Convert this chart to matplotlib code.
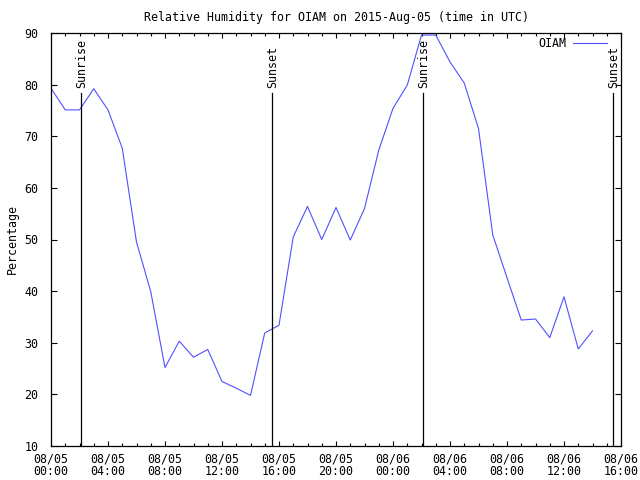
#!/usr/bin/env python
import matplotlib
matplotlib.use('Agg')
import matplotlib.pyplot as pyplot
from matplotlib.ticker import MultipleLocator

# hourly relative humidity, hours since 2015-08-05 00:00 UTC
hours = list(range(0, 39))
humidity = [79.3, 75.1, 75.1, 79.2, 75.1, 67.7, 49.5, 39.9, 25.2, 30.3,
            27.2, 28.7, 22.5, 21.2, 19.8, 31.9, 33.4, 50.5, 56.4, 50.0,
            56.2, 49.9, 56.0, 67.3, 75.4, 79.9, 89.6, 89.6, 84.4, 80.3,
            71.5, 50.9, 42.6, 34.4, 34.6, 31.0, 38.9, 28.8, 32.3]

# sun events, hours since start
sun_names = ['Sunrise', 'Sunset', 'Sunrise', 'Sunset']
sun_times = [2.13, 15.53, 26.13, 39.47]

tick_hours = [0, 4, 8, 12, 16, 20, 24, 28, 32, 36, 40]
tick_labels = ['08/05\n00:00', '08/05\n04:00', '08/05\n08:00', '08/05\n12:00',
               '08/05\n16:00', '08/05\n20:00', '08/06\n00:00', '08/06\n04:00',
               '08/06\n08:00', '08/06\n12:00', '08/06\n16:00']

font = 'DejaVu Sans Mono'
fs = 8.4

def main():
    f = pyplot.figure(figsize=(6.4, 4.8), dpi=100)
    ax = f.add_axes([51/640, 34/480, 570/640, 413/480])

    ax.plot(hours, humidity, color='#5050ff', linewidth=0.8, label='OIAM')

    for name, t in zip(sun_names, sun_times):
        ax.plot([t, t], [10, 78.3], color='k', linewidth=0.9)
        ax.text(t, 79.3, name, rotation=90, ha='center', va='bottom',
                family=font, fontsize=fs)

    ax.set_xlim(0, 40)
    ax.set_ylim(10, 90)
    ax.set_xticks(tick_hours)
    ax.set_xticklabels(tick_labels, family=font, fontsize=fs, linespacing=1.0)
    ax.xaxis.set_minor_locator(MultipleLocator(1))
    ax.yaxis.set_major_locator(MultipleLocator(10))
    for lab in ax.get_yticklabels():
        lab.set_family(font)
        lab.set_fontsize(fs)
    ax.tick_params(axis='both', which='both', direction='in', top=True, right=True,
                   width=0.8, colors='k')
    ax.tick_params(axis='x', which='major', length=3.5, pad=4.5)
    ax.tick_params(axis='x', which='minor', length=2)
    ax.tick_params(axis='y', which='major', length=4.5, pad=9)
    for s in ax.spines.values():
        s.set_linewidth(0.9)

    ax.set_title('Relative Humidity for OIAM on 2015-Aug-05 (time in UTC)',
                 family=font, fontsize=fs, pad=9)
    ax.set_ylabel('Percentage', family=font, fontsize=fs, labelpad=4)

    ax.legend(loc='upper right', frameon=False, prop={'family': font, 'size': fs},
              handlelength=2.9, handletextpad=0.6, markerfirst=False,
              borderpad=0, borderaxespad=0, bbox_to_anchor=(0.975, 0.99))

    pyplot.savefig('out.png', dpi=100)

if __name__ == "__main__":
    main()
